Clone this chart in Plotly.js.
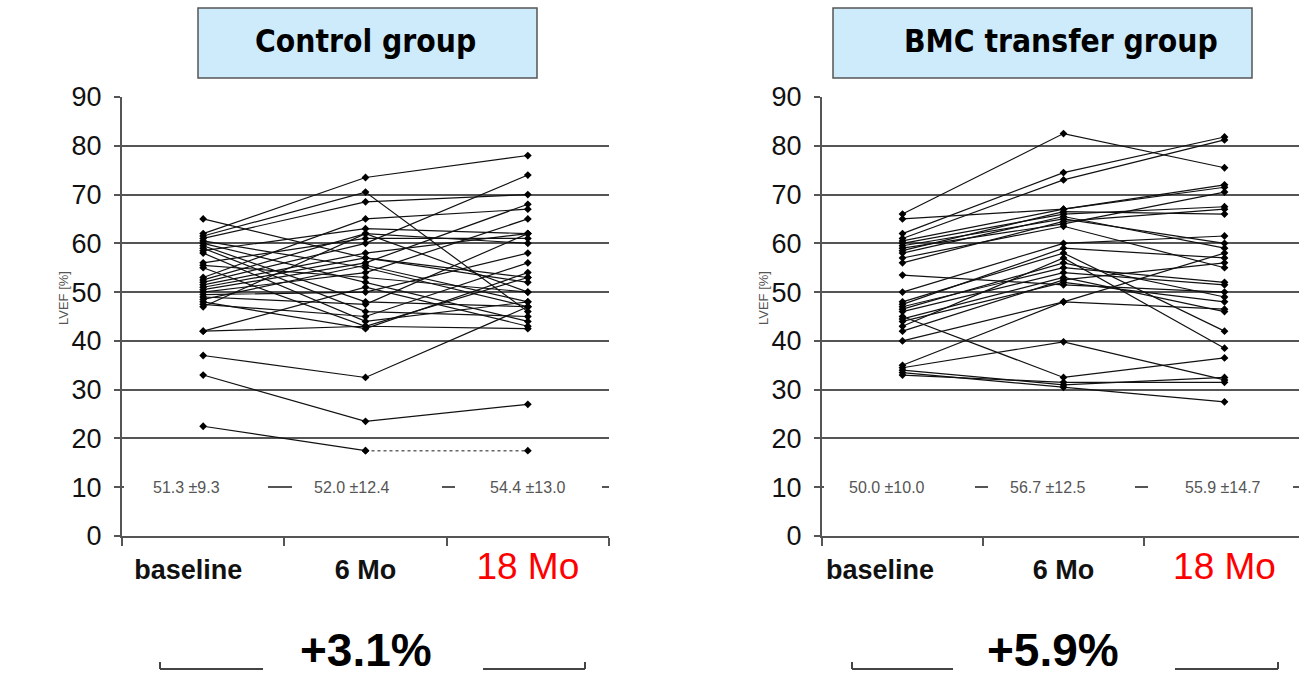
<!DOCTYPE html>
<html>
<head>
<meta charset="utf-8">
<script src="https://cdn.plot.ly/plotly-3.0.1.min.js"></script>
<style>html,body{margin:0;padding:0;background:#fff;}#chart{width:1299px;height:677px;}</style>
</head>
<body>
<div id="chart"></div>
<script>
// ---------- data ----------
const categories = ['baseline', '6 Mo', '18 Mo'];
const panelTitles = ['Control group', 'BMC transfer group'];
const yAxisTitle = 'LVEF [%]';

const controlBaseline = [65, 62, 61.5, 61, 60.5, 60, 59.5, 59, 58.5, 58, 56, 55.5, 55, 53, 52.5, 52, 51.5, 51, 50.5, 50, 49.5, 49, 48.5, 48, 47.5, 47, 42, 42, 37, 33, 22.5];
const control6Mo      = [57, 73.5, 70.5, 68.5, 55, 52, 48, 46, 63, 44, 61, 53, 43, 65, 62, 60, 58, 57, 56, 54, 50, 47.5, 55.5, 42.5, 45, 62, 51, 43, 32.5, 23.5, 17.5];
const control18Mo     = [53, 78, 46, 70, 47, 44, 47, 45, 62, 48, 61, 50, 53, 67, 60, 74, 62, 52, 68, 65, 58, 62, 48, 54, 56, 50, 43, 42.5, 47, 27, 17.5];
const controlDottedLast = [false,false,false,false,false,false,false,false,false,false,false,false,false,false,false,false,false,false,false,false,false,false,false,false,false,false,false,false,false,false,true];

const bmcBaseline = [66, 65, 62, 61, 60.5, 60, 59.5, 59, 58.5, 58, 57, 56, 53.5, 50, 48, 47.5, 47, 46.5, 46, 45, 44.5, 44, 43, 42, 40, 35, 34.5, 34, 33.5, 33];
const bmc6Mo      = [82.5, 67, 74.5, 73, 67, 66, 65, 64, 66.5, 65.5, 63.5, 64.5, 51.5, 60, 58, 59, 55, 56, 54, 32.5, 53, 52, 57, 52.5, 48, 48, 39.8, 31, 30.5, 31.5];
const bmc18Mo     = [75.5, 72, 81.8, 81.2, 71.5, 67.5, 60, 70.5, 66, 59, 55, 67, 50, 61.5, 42, 57, 52, 49, 51.5, 36.5, 46, 48, 38.5, 56, 46.5, 58, 32, 32.5, 27.5, 31.5];

const controlMeans = ['51.3 ±9.3', '52.0 ±12.4', '54.4 ±13.0'];
const bmcMeans     = ['50.0 ±10.0', '56.7 ±12.5', '55.9 ±14.7'];
const changeLabels = ['+3.1%', '+5.9%'];

// ---------- helpers ----------
const W = 1299, H = 677;
const px = x => x / W;
const py = y => 1 - y / H;
const FONT = 'Liberation Sans, Arial, sans-serif';

function patientTraces(b, m6, m18, dotted, xa, ya) {
  const out = [];
  for (let i = 0; i < b.length; i++) {
    const line = {color: '#111', width: 1.2};
    const marker = {symbol: 'diamond', size: 6, color: '#000'};
    if (dotted && dotted[i]) {
      out.push({x: categories.slice(0, 2), y: [b[i], m6[i]], xaxis: xa, yaxis: ya,
        mode: 'lines+markers', line: line, marker: marker, showlegend: false, hoverinfo: 'y'});
      out.push({x: categories.slice(1, 3), y: [m6[i], m18[i]], xaxis: xa, yaxis: ya,
        mode: 'lines+markers', line: {color: '#666', width: 1.5, dash: 'dot'}, marker: marker, showlegend: false, hoverinfo: 'y'});
    } else {
      out.push({x: categories, y: [b[i], m6[i], m18[i]], xaxis: xa, yaxis: ya,
        mode: 'lines+markers', line: line, marker: marker, showlegend: false, hoverinfo: 'y'});
    }
  }
  return out;
}

const data = [].concat(
  patientTraces(controlBaseline, control6Mo, control18Mo, controlDottedLast, 'x', 'y'),
  patientTraces(bmcBaseline, bmc6Mo, bmc18Mo, null, 'x2', 'y2')
);

function tickText(pad) {
  return ['<b>baseline</b>' + '&nbsp;'.repeat(pad), '<b>6 Mo</b>',
          '<span style="color:#ff0000;font-size:37px">18 Mo</span>'];
}

function xAxis(domain, range, pad) {
  return {
    domain: domain, type: 'category', range: range,
    tickmode: 'array', tickvals: categories, ticktext: tickText(pad), tickangle: 0,
    tickson: 'boundaries', ticks: 'outside', ticklen: 8, tickwidth: 2, tickcolor: '#555',
    showline: true, linecolor: '#555', linewidth: 2, showgrid: false, zeroline: false,
    tickfont: {family: FONT, size: 27, color: '#111'}, ticklabelstandoff: 9,
    fixedrange: true
  };
}
function yAxis(anchor) {
  return {
    domain: [py(536), py(97)], range: [0, 90], anchor: anchor,
    tickmode: 'array', tickvals: [0,10,20,30,40,50,60,70,80,90],
    ticks: 'outside', ticklen: 6, tickwidth: 2, tickcolor: '#555',
    showline: true, linecolor: '#555', linewidth: 2,
    showgrid: true, gridcolor: '#555', gridwidth: 2, zeroline: false,
    tickfont: {family: FONT, size: 27, color: '#111'}, ticklabelstandoff: 7,
    fixedrange: true
  };
}

const annotations = [];
function meanAnnots(labels, xa, ya, shifts) {
  labels.forEach((t, i) => annotations.push({
    x: categories[i], y: 10, xref: xa, yref: ya, text: t, showarrow: false, xshift: shifts[i],
    font: {family: FONT, size: 16, color: '#555'},
    xanchor: 'center', yanchor: 'middle'
  }));
}
meanAnnots(controlMeans, 'x', 'y', [-17, -14, 0]);
meanAnnots(bmcMeans, 'x2', 'y2', [-16, -16, -2]);

// panel titles
const titleBoxes = [[198, 537], [833, 1252]];
const titleCenters = [365, 1061];
panelTitles.forEach((t, i) => annotations.push({
  x: px(titleCenters[i]), y: py(41), xref: 'paper', yref: 'paper',
  text: '<b>' + t + '</b>', showarrow: false, xanchor: 'center', yanchor: 'middle',
  font: {family: 'DejaVu Sans Condensed, Open Sans, sans-serif', size: 31.5, color: '#000'}
}));

// y axis titles
[64, 764].forEach(x => annotations.push({
  x: px(x), y: py(298), xref: 'paper', yref: 'paper', text: yAxisTitle, showarrow: false,
  textangle: -90, font: {family: FONT, size: 13, color: '#555'}, xanchor: 'center', yanchor: 'middle'
}));

// change labels
const changeX = [366, 1053];
changeLabels.forEach((t, i) => annotations.push({
  x: px(changeX[i]), y: 0, xref: 'paper', yref: 'paper', text: '<b>' + t + '</b>', showarrow: false,
  xanchor: 'center', yanchor: 'bottom', borderpad: 0, font: {family: FONT, size: 46, color: '#000'}
}));

const shapes = [];
titleBoxes.forEach(b => shapes.push({
  type: 'rect', xref: 'paper', yref: 'paper', x0: px(b[0]), x1: px(b[1]), y0: py(78), y1: py(8),
  fillcolor: '#cdebfb', line: {color: '#555', width: 1.5}, layer: 'below'
}));
// white masks leaving only short dashes of the 10 % gridline visible
const maskSpans = [[124, 268], [292, 442], [455, 602], [824, 975], [988, 1135], [1148, 1293]];
maskSpans.forEach(m => shapes.push({
  type: 'rect', xref: 'paper', yref: 'paper', x0: px(m[0]), x1: px(m[1]), y0: py(491), y1: py(483),
  fillcolor: '#ffffff', line: {width: 0}, layer: 'above'
}));
// brackets under panels
const brackets = [[160, 263, 483, 585], [852, 953, 1175, 1278]];
brackets.forEach(b => {
  const yb = 669, yt = 662;
  shapes.push({type: 'line', xref: 'paper', yref: 'paper', x0: px(b[0]), x1: px(b[1]), y0: py(yb), y1: py(yb), line: {color: '#444', width: 2}});
  shapes.push({type: 'line', xref: 'paper', yref: 'paper', x0: px(b[0]), x1: px(b[0]), y0: py(yb), y1: py(yt), line: {color: '#444', width: 2}});
  shapes.push({type: 'line', xref: 'paper', yref: 'paper', x0: px(b[2]), x1: px(b[3]), y0: py(yb), y1: py(yb), line: {color: '#444', width: 2}});
  shapes.push({type: 'line', xref: 'paper', yref: 'paper', x0: px(b[3]), x1: px(b[3]), y0: py(yb), y1: py(yt), line: {color: '#444', width: 2}});
});

const layout = {
  width: W, height: H, margin: {l: 0, r: 0, t: 0, b: 0},
  paper_bgcolor: '#fff', plot_bgcolor: '#fff', showlegend: false,
  font: {family: FONT},
  xaxis: Object.assign(xAxis([px(122), px(609)], [-0.5, 2.5], 4), {anchor: 'y'}),
  yaxis: yAxis('x'),
  xaxis2: Object.assign(xAxis([px(822), 1], [-0.5, 2.5 - 6 / 161], 6), {anchor: 'y2'}),
  yaxis2: yAxis('x2'),
  annotations: annotations, shapes: shapes
};

Plotly.newPlot('chart', data, layout, {displayModeBar: false, staticPlot: true});
</script>
</body>
</html>
